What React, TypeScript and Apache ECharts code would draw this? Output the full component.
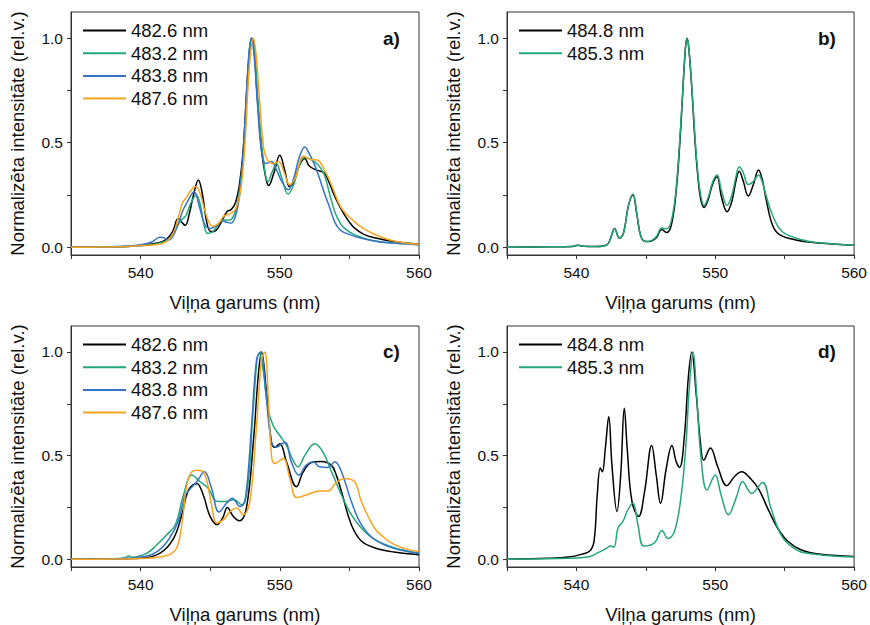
import React, { useEffect, useRef } from 'react';
import * as echarts from 'echarts';

const FONT = 'Liberation Sans, Arial, sans-serif';

const xTicks = [535, 540, 545, 550, 555, 560];
const xLabels = [540, 550, 560];
const yTicks = [0, 0.25, 0.5, 0.75, 1];
const yLabels = [0, 0.5, 1];

const namesAC = ['482.6 nm', '483.2 nm', '483.8 nm', '487.6 nm'];
const namesBD = ['484.8 nm', '485.3 nm'];
const panelLabels = ['a)', 'b)', 'c)', 'd)'];

const colBlack = '#000000';
const colGreen = '#23a67c';
const colBlue = '#3474c6';
const colOrange = '#f8a31e';

// Panel a
const a482_6 = [[535,0],[537,0.001],[539,0.004],[540,0.008],[541,0.018],[541.8,0.035],[542.3,0.075],[542.7,0.138],[542.95,0.12],[543.2,0.105],[543.5,0.16],[543.8,0.25],[544.15,0.322],[544.45,0.25],[544.75,0.12],[545.05,0.075],[545.4,0.08],[545.8,0.12],[546.2,0.17],[546.5,0.18],[546.8,0.21],[547.1,0.3],[547.35,0.45],[547.65,0.78],[547.85,0.96],[548.0,1.0],[548.15,0.95],[548.35,0.75],[548.7,0.46],[549.0,0.33],[549.2,0.295],[549.55,0.35],[550.0,0.44],[550.35,0.37],[550.7,0.29],[551.0,0.31],[551.4,0.39],[551.8,0.425],[552.1,0.39],[552.6,0.37],[553.2,0.355],[553.6,0.3],[553.9,0.25],[554.3,0.195],[554.65,0.155],[555.0,0.12],[555.4,0.09],[556,0.063],[556.8,0.045],[558.2,0.027],[560,0.014]];
const a483_2 = [[535,0],[537,0.001],[539,0.004],[540,0.008],[541,0.015],[541.8,0.03],[542.3,0.06],[542.7,0.11],[543.0,0.135],[543.25,0.15],[543.6,0.21],[544.0,0.25],[544.3,0.2],[544.55,0.11],[544.8,0.067],[545.1,0.07],[545.5,0.1],[545.9,0.13],[546.1,0.13],[546.4,0.13],[546.8,0.17],[547.1,0.27],[547.4,0.45],[547.7,0.8],[548.0,1.0],[548.2,0.93],[548.45,0.68],[548.8,0.43],[549.15,0.314],[549.45,0.36],[549.75,0.40],[550.1,0.34],[550.6,0.255],[551.0,0.3],[551.4,0.39],[551.8,0.43],[552.2,0.42],[552.75,0.394],[553.2,0.346],[553.6,0.25],[553.95,0.17],[554.3,0.12],[554.65,0.09],[555.4,0.059],[556.8,0.03],[558.2,0.02],[560,0.012]];
const a483_8 = [[535,0],[537,0.002],[539,0.006],[540,0.012],[540.8,0.025],[541.4,0.048],[541.7,0.045],[542.0,0.035],[542.3,0.05],[542.7,0.11],[543.0,0.17],[543.3,0.21],[543.85,0.265],[544.2,0.2],[544.6,0.11],[545.0,0.09],[545.4,0.1],[545.9,0.125],[546.2,0.12],[546.5,0.115],[546.9,0.17],[547.2,0.3],[547.5,0.6],[547.75,0.9],[547.95,1.0],[548.15,0.92],[548.4,0.68],[548.7,0.45],[549.0,0.4],[549.4,0.41],[549.7,0.38],[550.1,0.32],[550.6,0.275],[551.0,0.33],[551.4,0.43],[551.8,0.48],[552.1,0.45],[552.5,0.394],[552.85,0.33],[553.2,0.26],[553.6,0.187],[553.95,0.12],[554.3,0.085],[554.65,0.07],[555.4,0.052],[556.8,0.03],[558.2,0.02],[560,0.012]];
const a487_6 = [[535,0],[537,0.001],[539,0.004],[540,0.008],[541,0.012],[541.8,0.025],[542.3,0.06],[542.7,0.14],[543.0,0.21],[543.3,0.24],[543.6,0.27],[543.9,0.29],[544.2,0.27],[544.6,0.18],[544.9,0.12],[545.2,0.1],[545.6,0.115],[546.0,0.15],[546.4,0.16],[546.8,0.18],[547.2,0.28],[547.5,0.5],[547.8,0.85],[548.1,1.0],[548.3,0.92],[548.55,0.7],[548.85,0.47],[549.1,0.42],[549.5,0.40],[549.9,0.41],[550.3,0.36],[550.7,0.30],[551.1,0.33],[551.7,0.435],[552.2,0.42],[552.75,0.415],[553.2,0.37],[553.7,0.3],[554.4,0.19],[555.4,0.12],[556.0,0.09],[556.8,0.062],[558.2,0.03],[560,0.014]];

// Panel b
const b484_8 = [[535,0],[538,0.002],[539.7,0.004],[540.1,0.01],[540.5,0.005],[541.5,0.004],[542.2,0.012],[542.5,0.05],[542.75,0.09],[543.1,0.043],[543.4,0.07],[543.75,0.2],[544.07,0.25],[544.35,0.16],[544.65,0.05],[545.03,0.027],[545.4,0.03],[545.75,0.045],[546.15,0.085],[546.5,0.07],[546.85,0.11],[547.18,0.265],[547.45,0.5],[547.66,0.74],[547.85,0.95],[547.97,1.0],[548.1,0.95],[548.33,0.74],[548.55,0.5],[548.74,0.345],[548.95,0.23],[549.2,0.19],[549.5,0.23],[549.8,0.3],[550.13,0.337],[550.45,0.24],[550.85,0.17],[551.2,0.22],[551.5,0.32],[551.73,0.364],[552.0,0.32],[552.38,0.245],[552.75,0.3],[553.12,0.369],[553.4,0.32],[553.65,0.234],[554.12,0.106],[554.6,0.062],[555.8,0.035],[557.7,0.019],[560,0.01]];
const b485_3 = [[535,0],[538,0.002],[539.7,0.004],[540.1,0.01],[540.5,0.005],[541.5,0.004],[542.2,0.012],[542.5,0.05],[542.75,0.09],[543.1,0.043],[543.4,0.07],[543.75,0.2],[544.07,0.255],[544.35,0.16],[544.65,0.05],[545.03,0.027],[545.4,0.032],[545.75,0.05],[546.15,0.092],[546.5,0.088],[546.85,0.13],[547.18,0.28],[547.45,0.52],[547.66,0.75],[547.85,0.95],[547.97,1.0],[548.1,0.95],[548.33,0.75],[548.55,0.52],[548.74,0.36],[548.95,0.25],[549.2,0.2],[549.5,0.24],[549.8,0.31],[550.13,0.345],[550.45,0.27],[550.85,0.2],[551.2,0.25],[551.5,0.34],[551.73,0.385],[552.0,0.36],[552.38,0.3],[552.75,0.315],[553.12,0.345],[553.4,0.31],[553.65,0.25],[554.12,0.154],[554.84,0.074],[556.3,0.035],[557.7,0.02],[560,0.01]];

// Panel c
const c482_6 = [[535,0],[538,0.002],[540,0.005],[541.4,0.03],[542.36,0.1],[542.96,0.215],[543.44,0.334],[544.03,0.366],[544.5,0.31],[544.99,0.207],[545.5,0.167],[545.9,0.2],[546.23,0.25],[546.66,0.207],[547.1,0.186],[547.6,0.247],[548.1,0.565],[548.45,0.884],[548.69,1.0],[549.05,0.8],[549.4,0.565],[549.64,0.54],[550.0,0.557],[550.48,0.47],[551.2,0.35],[551.67,0.42],[552.27,0.467],[553.0,0.472],[553.7,0.454],[554.06,0.406],[554.43,0.327],[555.14,0.167],[555.86,0.088],[556.8,0.056],[558.2,0.035],[560,0.022]];
const c483_2 = [[535,0],[538,0.003],[538.9,0.008],[539.14,0.016],[539.4,0.01],[540.45,0.03],[541.17,0.07],[541.9,0.12],[542.5,0.167],[543.08,0.31],[543.68,0.406],[544.27,0.374],[544.87,0.342],[545.47,0.28],[546.18,0.279],[546.66,0.287],[547.26,0.263],[547.73,0.374],[548.09,0.724],[548.52,0.995],[548.8,0.916],[549.16,0.724],[549.52,0.645],[550.0,0.597],[550.48,0.549],[550.95,0.478],[551.31,0.446],[551.79,0.5],[552.5,0.557],[553.1,0.517],[553.82,0.406],[554.43,0.31],[555.14,0.215],[555.86,0.151],[556.8,0.096],[558.2,0.056],[560,0.03]];
const c483_8 = [[535,0],[538,0.002],[540.45,0.016],[541.4,0.048],[542.1,0.104],[542.7,0.183],[543.2,0.31],[543.44,0.33],[544.03,0.374],[544.58,0.422],[545.1,0.342],[545.63,0.228],[546.18,0.27],[546.59,0.295],[547.14,0.255],[547.5,0.28],[547.97,0.645],[548.33,0.963],[548.62,1.0],[549.0,0.8],[549.4,0.565],[549.76,0.541],[550.36,0.565],[550.83,0.47],[551.36,0.406],[551.9,0.454],[552.39,0.47],[552.86,0.446],[553.46,0.443],[553.94,0.47],[554.43,0.422],[555.14,0.279],[555.86,0.167],[556.8,0.096],[558.2,0.053],[560,0.028]];
const c487_6 = [[535,0],[538,0.001],[540.45,0.005],[541.4,0.011],[542.1,0.024],[542.6,0.056],[542.96,0.167],[543.32,0.358],[543.68,0.422],[544.15,0.43],[544.63,0.406],[545.1,0.263],[545.47,0.175],[545.94,0.19],[546.42,0.23],[546.9,0.247],[547.37,0.215],[547.85,0.28],[548.33,0.645],[548.69,0.963],[548.93,1.0],[549.16,0.8],[549.4,0.5],[549.64,0.462],[550.24,0.486],[550.72,0.39],[551.2,0.298],[551.9,0.31],[552.86,0.33],[553.5,0.33],[554.0,0.366],[554.66,0.39],[555.38,0.374],[555.86,0.279],[556.8,0.151],[557.5,0.104],[558.2,0.072],[559.15,0.048],[560,0.038]];

// Panel d
const d484_8 = [[535,0],[537.96,0.005],[539.4,0.011],[540.36,0.024],[540.96,0.04],[541.27,0.088],[541.5,0.31],[541.72,0.44],[541.87,0.422],[542.08,0.533],[542.33,0.688],[542.56,0.454],[542.92,0.231],[543.19,0.406],[543.45,0.729],[543.66,0.533],[544.0,0.279],[544.48,0.207],[544.91,0.326],[545.42,0.549],[545.75,0.406],[546.06,0.27],[546.47,0.438],[546.88,0.549],[547.19,0.47],[547.43,0.443],[547.78,0.597],[548.07,0.884],[548.31,1.0],[548.62,0.804],[548.93,0.565],[549.17,0.478],[549.65,0.537],[550.18,0.446],[550.83,0.355],[551.38,0.398],[551.9,0.422],[552.57,0.387],[553.17,0.334],[553.77,0.247],[554.49,0.151],[555.21,0.088],[556.17,0.046],[557.6,0.024],[560,0.014]];
const d485_3 = [[535,0],[539.4,0.005],[540.36,0.008],[541.08,0.016],[541.56,0.032],[542.16,0.053],[542.47,0.064],[542.7,0.059],[543.0,0.151],[543.35,0.183],[543.71,0.239],[544.07,0.27],[544.43,0.167],[544.86,0.064],[545.63,0.08],[546.16,0.139],[546.59,0.1],[547.07,0.135],[547.55,0.31],[547.9,0.565],[548.14,0.836],[548.41,1.0],[548.65,0.804],[548.98,0.486],[549.41,0.334],[549.99,0.406],[550.42,0.31],[550.95,0.215],[551.5,0.295],[551.98,0.374],[552.62,0.318],[553.41,0.371],[554.01,0.247],[554.73,0.119],[555.45,0.064],[556.41,0.032],[560,0.011]];

const grids = [
  { left: 71, top: 12, width: 348, height: 243 },
  { left: 507, top: 12, width: 348, height: 243 },
  { left: 71, top: 326, width: 348, height: 244 },
  { left: 507, top: 326, width: 348, height: 244 },
];

const panelSeries: Array<Array<{ name: string; data: number[][]; color: string }>> = [
  [
    { name: namesAC[0], data: a482_6, color: colBlack },
    { name: namesAC[1], data: a483_2, color: colGreen },
    { name: namesAC[2], data: a483_8, color: colBlue },
    { name: namesAC[3], data: a487_6, color: colOrange },
  ],
  [
    { name: namesBD[0], data: b484_8, color: colBlack },
    { name: namesBD[1], data: b485_3, color: colGreen },
  ],
  [
    { name: namesAC[0], data: c482_6, color: colBlack },
    { name: namesAC[1], data: c483_2, color: colGreen },
    { name: namesAC[2], data: c483_8, color: colBlue },
    { name: namesAC[3], data: c487_6, color: colOrange },
  ],
  [
    { name: namesBD[0], data: d484_8, color: colBlack },
    { name: namesBD[1], data: d485_3, color: colGreen },
  ],
];

function buildOption() {
  const axisColor = '#333';
  const xAxis = grids.map((_, i) => ({
    type: 'value',
    gridIndex: i,
    min: 535,
    max: 560,
    name: 'Viļņa garums (nm)',
    nameLocation: 'middle',
    nameGap: 38,
    nameTextStyle: { fontSize: 18.5, color: '#111', fontFamily: FONT },
    axisLine: { show: true, onZero: false, lineStyle: { color: axisColor, width: 1 } },
    axisTick: { show: true, inside: false, length: 4, customValues: xTicks, lineStyle: { color: axisColor } },
    axisLabel: { customValues: xLabels, fontSize: 15.5, color: '#111', margin: 9, fontFamily: FONT },
    splitLine: { show: false },
  }));
  const yAxis = grids.map((_, i) => ({
    type: 'value',
    gridIndex: i,
    min: -0.037,
    max: 1.125,
    name: 'Normalizēta intensitāte (rel.v.)',
    nameLocation: 'middle',
    nameGap: 44,
    nameTextStyle: { fontSize: 18.5, color: '#111', fontFamily: FONT },
    axisLine: { show: true, onZero: false, lineStyle: { color: axisColor, width: 1 } },
    axisTick: { show: true, inside: false, length: 4, customValues: yTicks, lineStyle: { color: axisColor } },
    axisLabel: {
      customValues: yLabels,
      fontSize: 15.5,
      color: '#111',
      margin: 8,
      fontFamily: FONT,
      formatter: (v: number) => v.toFixed(1),
    },
    splitLine: { show: false },
  }));
  const series: any[] = [];
  panelSeries.forEach((list, i) => {
    list.forEach((s) => {
      series.push({
        type: 'line',
        name: s.name,
        xAxisIndex: i,
        yAxisIndex: i,
        data: s.data,
        showSymbol: false,
        smooth: 0.4,
        lineStyle: { color: s.color, width: 1.5 },
        itemStyle: { color: s.color },
        z: 2,
      });
    });
  });
  const legendPos = [
    { left: 83, top: 21 },
    { left: 519, top: 21 },
    { left: 83, top: 335 },
    { left: 519, top: 335 },
  ];
  const legend = legendPos.map((p, i) => ({
    ...p,
    orient: 'vertical',
    data: i % 2 === 0 ? namesAC : namesBD,
    icon: 'rect',
    itemWidth: 43,
    itemHeight: 2,
    itemGap: 3.7,
    padding: 0,
    selectedMode: false,
    textStyle: { fontSize: 18.5, color: '#111', fontFamily: FONT, lineHeight: 18 },
  }));
  const titlePos = [
    { left: 383, top: 29 },
    { left: 818, top: 29 },
    { left: 383, top: 342 },
    { left: 818, top: 342 },
  ];
  const title = titlePos.map((p, i) => ({
    ...p,
    text: panelLabels[i],
    padding: 0,
    textStyle: { fontSize: 19, fontWeight: 'bold', color: '#111', fontFamily: FONT },
  }));
  return {
    animation: false,
    backgroundColor: '#ffffff',
    title,
    legend,
    grid: grids.map((g) => ({ ...g, show: true, borderColor: axisColor, borderWidth: 1, backgroundColor: 'transparent' })),
    xAxis,
    yAxis,
    series,
  };
}

export default function App() {
  const ref = useRef<HTMLDivElement>(null);
  useEffect(() => {
    if (!ref.current) return;
    const chart = echarts.init(ref.current, null, { renderer: 'svg' });
    chart.setOption(buildOption() as any);
    return () => chart.dispose();
  }, []);
  return (
    <div
      ref={ref}
      style={{ position: 'fixed', left: 0, top: 0, width: 870, height: 625, background: '#fff' }}
    />
  );
}
